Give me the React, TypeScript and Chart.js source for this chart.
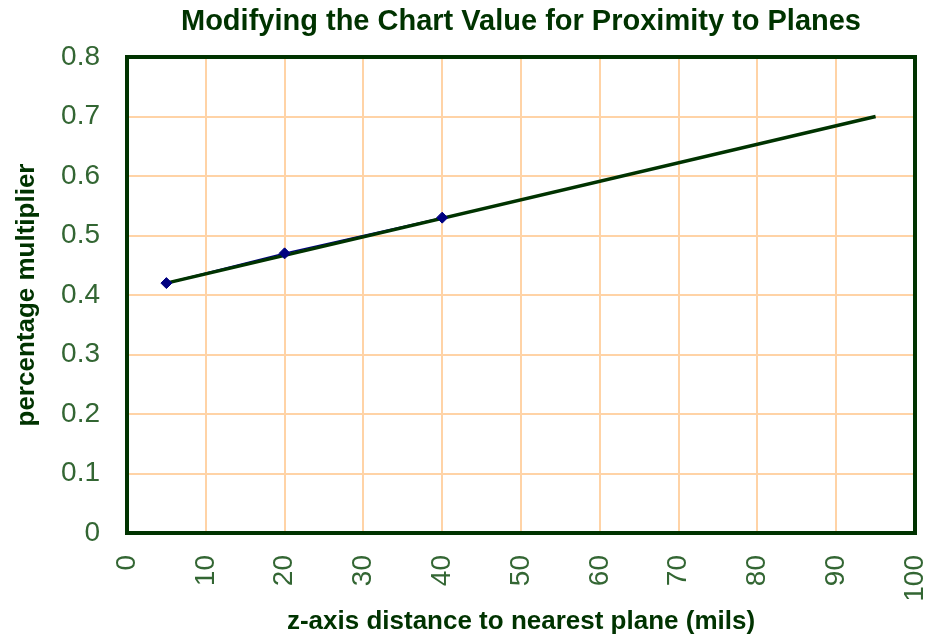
import React, { useEffect, useRef } from "react";
import { Chart, registerables } from "chart.js";

Chart.register(...registerables);

const chartTitle = "Modifying the Chart Value for Proximity to Planes";
const xAxisTitle = "z-axis distance to nearest plane (mils)";
const yAxisTitle = "percentage multiplier";

// measured points
const distances = [5, 20, 40];
const multipliers = [0.42, 0.47, 0.53];

// trendline endpoints
const trendX = [5, 95];
const trendY = [0.42, 0.70];

const xTickLabels = ["0", "10", "20", "30", "40", "50", "60", "70", "80", "90", "100"];
const yTickLabels = ["0", "0.1", "0.2", "0.3", "0.4", "0.5", "0.6", "0.7", "0.8"];

const W = 928;
const H = 639;
const AREA_LEFT = 127;
const AREA_RIGHT = 915;
const AREA_TOP = 57;
const AREA_BOTTOM = 533;

const darkGreen = "#003300";
const tickColor = "#336633";
const gridColor = "#ffd3a6";
const navy = "#000080";

const TICK_SIZE = 28;
const TITLE_SIZE = 29;
const AXIS_TITLE_SIZE = 26;
const FAMILY = '"Liberation Sans", Arial, sans-serif';

const tickFont = {
  family: FAMILY,
  size: TICK_SIZE,
  weight: "normal" as const,
  lineHeight: 1.0,
};
const boldFont = (size: number) => ({
  family: FAMILY,
  size,
  weight: "bold" as const,
  lineHeight: 1.2,
});

const frameBox = {
  id: "frameBox",
  beforeDatasetsDraw(chart: any) {
    const { ctx, chartArea } = chart;
    ctx.save();
    ctx.strokeStyle = darkGreen;
    ctx.lineWidth = 4;
    ctx.strokeRect(
      chartArea.left,
      chartArea.top,
      chartArea.right - chartArea.left,
      chartArea.bottom - chartArea.top
    );
    ctx.restore();
  },
  afterDraw(chart: any) {
    const { ctx, chartArea } = chart;
    ctx.save();
    ctx.fillStyle = darkGreen;
    ctx.font = `bold ${TITLE_SIZE}px ${FAMILY}`;
    ctx.textAlign = "center";
    ctx.textBaseline = "middle";
    ctx.fillText(chartTitle, (chartArea.left + chartArea.right) / 2, 22);
    ctx.restore();
  },
};

export default function App() {
  const ref = useRef<HTMLCanvasElement | null>(null);

  useEffect(() => {
    if (!ref.current) return;
    const points = distances.map((x, i) => ({ x, y: multipliers[i] }));
    const trend = trendX.map((x, i) => ({ x, y: trendY[i] }));
    const chart = new Chart(ref.current, {
      type: "scatter",
      data: {
        datasets: [
          {
            label: "points",
            data: points,
            showLine: false,
            pointStyle: "rectRot",
            pointRadius: 5.5,
            pointBackgroundColor: navy,
            pointBorderColor: navy,
            pointBorderWidth: 1,
          },
          {
            label: "trend",
            data: trend,
            showLine: true,
            borderColor: darkGreen,
            borderWidth: 3.5,
            pointRadius: 0,
          },
          {
            label: "series",
            data: points,
            showLine: true,
            borderColor: navy,
            borderWidth: 1.5,
            pointRadius: 0,
          },
        ],
      },
      options: {
        responsive: false,
        animation: false,
        events: [],
        layout: { padding: { left: 0, right: W - AREA_RIGHT, top: AREA_TOP, bottom: 0 } },
        plugins: {
          legend: { display: false },
          tooltip: { enabled: false },
          title: { display: false },
        },
        scales: {
          x: {
            type: "linear",
            min: 0,
            max: 100,
            afterFit(scale: any) {
              scale.height = H - AREA_BOTTOM;
              scale.paddingLeft = 0;
              scale.paddingRight = 0;
            },
            ticks: {
              stepSize: 10,
              autoSkip: false,
              minRotation: 90,
              maxRotation: 90,
              padding: 22,
              color: tickColor,
              font: tickFont,
              callback: (_v: any, i: number) => xTickLabels[i],
            },
            grid: { color: gridColor, lineWidth: 2, drawTicks: false },
            border: { display: false },
            title: {
              display: true,
              text: xAxisTitle,
              color: darkGreen,
              font: boldFont(AXIS_TITLE_SIZE),
              padding: { top: 0, bottom: 17 - AXIS_TITLE_SIZE * 0.6 },
            },
          },
          y: {
            type: "linear",
            min: 0,
            max: 0.8,
            afterFit(scale: any) {
              scale.width = AREA_LEFT;
              scale.paddingTop = 0;
              scale.paddingBottom = 0;
            },
            ticks: {
              stepSize: 0.1,
              padding: 27,
              color: tickColor,
              font: tickFont,
              callback: (_v: any, i: number) => yTickLabels[i],
            },
            grid: { color: gridColor, lineWidth: 2, drawTicks: false },
            border: { display: false },
            title: {
              display: true,
              text: yAxisTitle,
              color: darkGreen,
              font: boldFont(AXIS_TITLE_SIZE),
              padding: { top: 27 - AXIS_TITLE_SIZE * 0.6, bottom: 0 },
            },
          },
        },
      },
      plugins: [frameBox],
    } as any);
    return () => chart.destroy();
  }, []);

  return (
    <div style={{ position: "fixed", left: 0, top: 0, width: W, height: H, background: "#fff" }}>
      <canvas ref={ref} width={W} height={H} />
    </div>
  );
}
